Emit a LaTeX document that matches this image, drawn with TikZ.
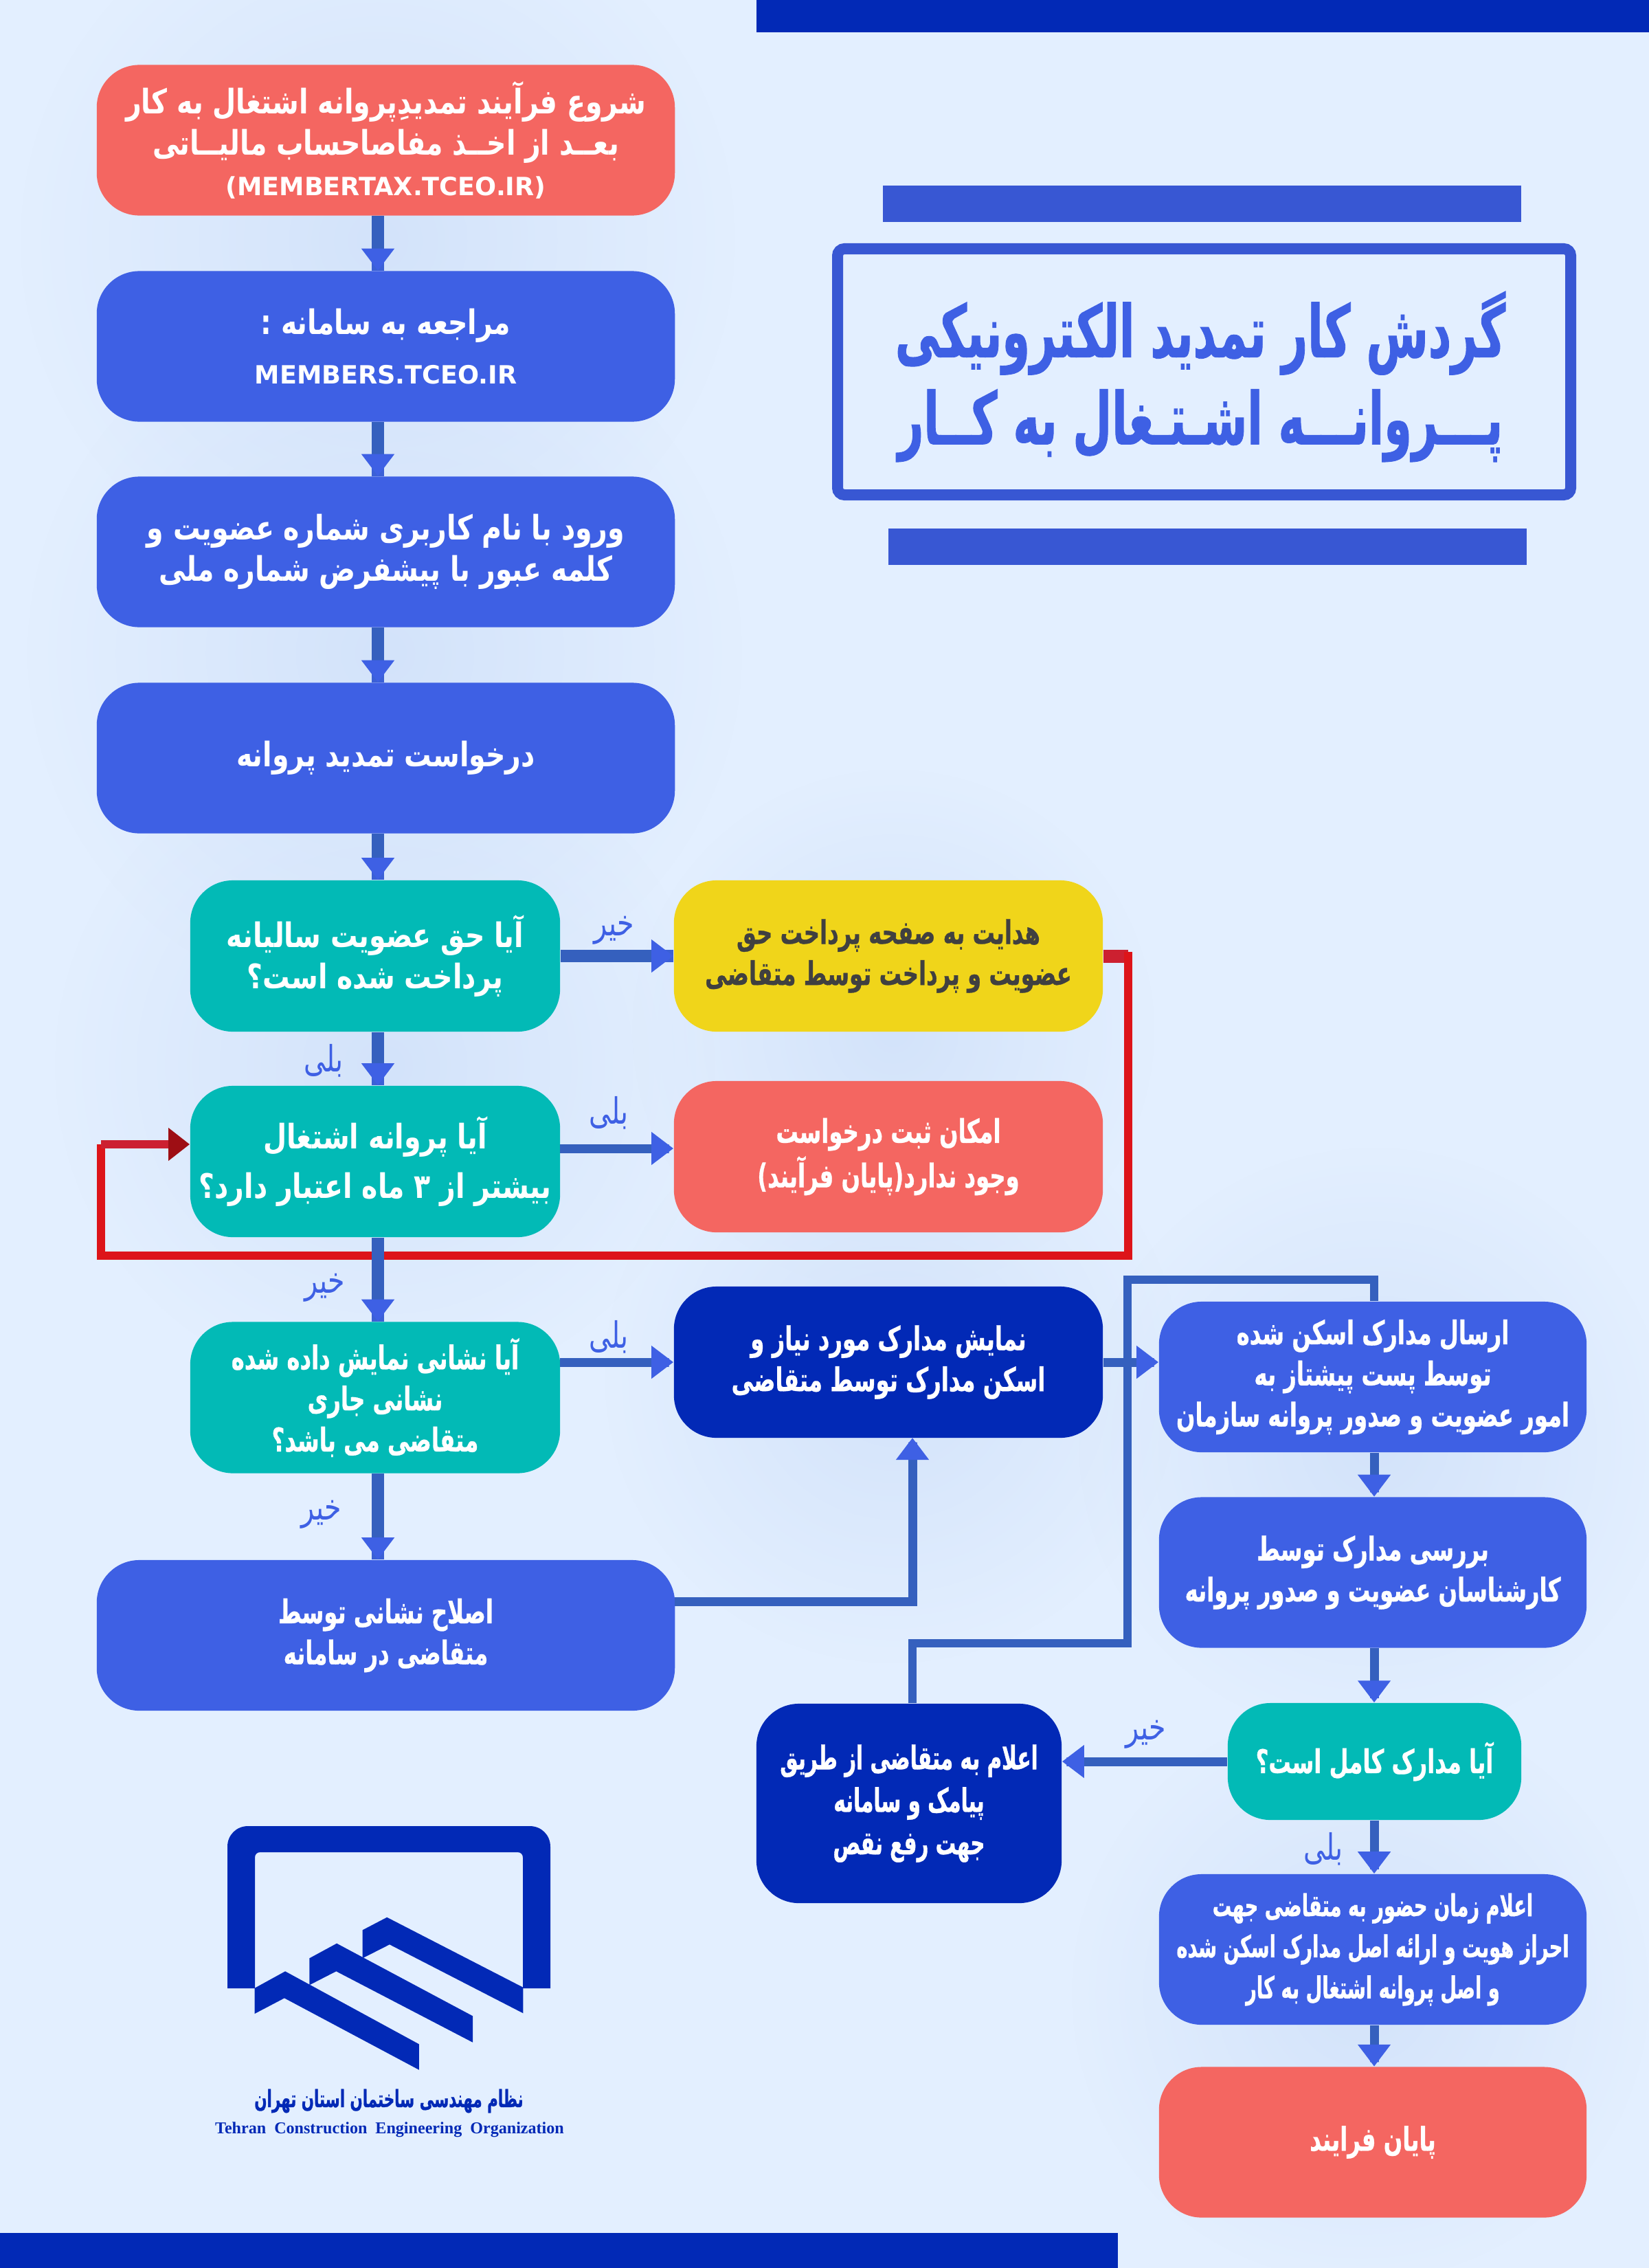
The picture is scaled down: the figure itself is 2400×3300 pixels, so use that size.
\documentclass[tikz,border=0pt]{standalone}
\usepackage{fontspec}
\usepackage{xcolor}
\usetikzlibrary{arrows.meta, calc, fadings}
\TeXXeTstate=1
\newfontfamily\fawide[Script=Arabic,FakeStretch=0.80]{DejaVu Sans}
\newfontfamily\fanarrow[Script=Arabic,FakeStretch=0.68,BoldFeatures={FakeBold=0.6}]{DejaVu Sans}
\newfontfamily\fatight[Script=Arabic,FakeStretch=0.62,BoldFeatures={FakeBold=0.8}]{DejaVu Sans}
\newfontfamily\falight[Script=Arabic,FakeStretch=0.75]{DejaVu Sans}
\newfontfamily\latfont{DejaVu Sans}
\newfontfamily\serfont{Liberation Serif}
\newcommand{\fa}[1]{\beginR #1\endR}
\newcommand{\lat}[1]{{\latfont\fontsize{10.4}{17}\selectfont #1}}

\definecolor{pagebg}{HTML}{E3EFFF}
\definecolor{blotch}{HTML}{D3E3FA}
\definecolor{coral}{HTML}{F46661}
\definecolor{royal}{HTML}{3E60E4}
\definecolor{tealbox}{HTML}{02BAB6}
\definecolor{sun}{HTML}{F0D51A}
\definecolor{navy}{HTML}{0229B6}
\definecolor{shaft}{HTML}{3560BE}
\definecolor{neck}{HTML}{3B60D6}
\definecolor{barblue}{HTML}{3857D3}
\definecolor{loopred}{HTML}{DD1419}
\definecolor{stubred}{HTML}{CC2030}
\definecolor{tipred}{HTML}{9E0E14}

\tikzfading[name=softspot, inner color=transparent!0, outer color=transparent!100]

\tikzset{
    flowbox/.style={rounded corners=0.62cm, inner sep=0pt, align=center, text=white,
        font=\fontsize{13.5}{17}\selectfont\fanarrow\bfseries},
    wide/.style={flowbox, minimum width=8.41cm, minimum height=2.19cm},
    widetext/.style={font=\fontsize{14}{17}\selectfont\fawide\bfseries},
    ask/.style={flowbox, fill=tealbox, minimum width=5.38cm, minimum height=2.2cm},
    mid/.style={flowbox, minimum width=6.24cm, minimum height=2.2cm},
    side/.style={flowbox, fill=royal, minimum width=6.22cm, minimum height=2.19cm},
    answer/.style={text=royal, inner sep=0pt, font=\fontsize{15}{17}\selectfont\falight},
    flow/.style={draw=shaft, line width=0.18cm,
        -{Rectangle[length=0.32cm,width=0pt 1,color=neck,sep=-0.32cm]Triangle[length=0.32cm,width=0.46cm,color=royal]}},
    thinflow/.style={flow, line width=0.13cm},
    plainflow/.style={draw=shaft, line width=0.125cm, line join=miter},
    bar/.style={fill=barblue},
}

\begin{document}
\begin{tikzpicture}[x=0.01cm, y=-0.01cm]
    % Page
    \fill[pagebg] (0,0) rectangle (2400,3300);
    \useasboundingbox (0,0) rectangle (2400,3300);
    \foreach \x/\y/\r in {550/350/520, 560/950/520, 560/1550/480, 1300/1500/380, 1300/2000/420, 2000/2100/430, 1980/2900/420} {
        \fill[blotch, path fading=softspot] (\x,\y) circle (\r);
    }
    \fill[navy] (1101,0) rectangle (2400,47);
    \fill[navy] (0,3249) rectangle (1627,3300);

    % Title
    \fill[bar] (1285,270) rectangle (2214,323);
    \fill[bar] (1293,769) rectangle (2222,822);
    \draw[barblue, line width=0.16cm, rounded corners=0.1cm] (1219,362) rectangle (2286,720);
    \node[text=royal, inner sep=0pt, align=center, font=\fontsize{30}{36}\selectfont\fatight\bfseries] (title) at (1747,548)
        {\fa{گردش کار تمدید الکترونیکی}\\\fa{پـــروانـــه اشـتـغال به کــار}};

    % Left column
    \node[wide, widetext, fill=coral] (start) at (561.5,204) {\fa{شروع فرآیند تمدیدِپروانه اشتغال به کار}\\\fa{بعــد از اخــذ مفاصاحساب مالیــاتی}\\\lat{(MEMBERTAX.TCEO.IR)}};
    \node[wide, widetext, fill=royal] (portal) at (561.5,504) {\fa{مراجعه به سامانه :}\\[0.13cm]\lat{MEMBERS.TCEO.IR}};
    \node[wide, widetext, fill=royal] (login) at (561.5,803) {\fa{ورود با نام کاربری شماره عضویت و}\\\fa{کلمه عبور با پیشفرض شماره ملی}};
    \node[wide, widetext, fill=royal] (request) at (561.5,1103) {\fa{درخواست تمدید پروانه}};
    \node[ask, widetext] (feepaid) at (546,1391) {\fa{آیا حق عضویت سالیانه}\\\fa{پرداخت شده است؟}};
    \node[ask, widetext] (valid) at (546,1690) {\fa{آیا پروانه اشتغال}\\[0.13cm]\fa{بیشتر از ۳ ماه اعتبار دارد؟}};
    \node[ask] (address) at (546,2033.5) {\fa{آیا نشانی نمایش داده شده}\\\fa{نشانی جاری}\\\fa{متقاضی می باشد؟}};
    \node[wide, fill=royal] (fixaddr) at (561.5,2379.5) {\fa{اصلاح نشانی توسط}\\\fa{متقاضی در سامانه}};

    % Middle column
    \node[mid, fill=sun, text=black!75] (payfee) at (1293,1391) {\fa{هدایت به صفحه پرداخت حق}\\\fa{عضویت و پرداخت توسط متقاضی}};
    \node[mid, fill=coral] (refuse) at (1293,1683) {\fa{امکان ثبت درخواست}\\[0.05cm]\fa{وجود ندارد(پایان فرآیند)}};
    \node[mid, fill=navy] (scan) at (1293,1982) {\fa{نمایش مدارک مورد نیاز و}\\\fa{اسکن مدارک توسط متقاضی}};
    \node[flowbox, fill=navy, minimum width=4.44cm, minimum height=2.9cm, font=\fontsize{13.5}{17.6}\selectfont\fatight\bfseries] (notify) at (1323,2624) {\fa{اعلام به متقاضی از طریق}\\\fa{پیامک و سامانه}\\\fa{جهت رفع نقص}};

    % Right column
    \node[side] (post) at (1998,2003.5) {\fa{ارسال مدارک اسکن شده}\\\fa{توسط پست پیشتاز به}\\\fa{امور عضویت و صدور پروانه سازمان}};
    \node[side] (review) at (1998,2288) {\fa{بررسی مدارک توسط}\\\fa{کارشناسان عضویت و صدور پروانه}};
    \node[flowbox, fill=tealbox, minimum width=4.27cm, minimum height=1.7cm] (complete) at (2000.5,2563) {\fa{آیا مدارک کامل است؟}};
    \node[side, font=\fontsize{12.5}{17}\selectfont\fatight\bfseries] (visit) at (1998,2836.5) {\fa{اعلام زمان حضور به متقاضی جهت}\\\fa{احراز هویت و ارائه اصل مدارک اسکن شده}\\\fa{و اصل پروانه اشتغال به کار}};
    \node[side, fill=coral] (finish) at (1998,3117) {\fa{پایان فرایند}};

    % Red loop
    \coordinate (loopa) at (1642,1385);
    \coordinate (loopb) at (1642,1827);
    \coordinate (loopc) at (147,1827);
    \coordinate (loopd) at (147,1665);
    \draw[stubred, line width=0.19cm] (payfee.east) -- (payfee.east -| loopa);
    \draw[loopred, line width=0.125cm] (loopa) -- (loopb) -- (loopc) -- (loopd);
    \draw[stubred, line width=0.125cm, -{Triangle[length=0.31cm,width=0.46cm,color=tipred]}] (loopd) -- (loopd -| valid.west);

    % Straight arrows
    \coordinate (leftx) at (550,0);
    \coordinate (rightx) at (2000,0);
    \foreach \a/\b in {start/portal, portal/login, login/request, request/feepaid, feepaid/valid, valid/address, address/fixaddr} {
        \draw[flow] (\a.south -| leftx) -- (\b.north -| leftx);
    }
    \foreach \a/\b in {post/review, review/complete, complete/visit, visit/finish} {
        \draw[thinflow] (\a.south -| rightx) -- (\b.north -| rightx);
    }
    \draw[flow] (feepaid.east) -- (payfee.west);

    % Side arrows
    \coordinate (validout) at (815,1671);
    \coordinate (addrout) at (815,1982);
    \coordinate (fixout) at (982,2330);
    \coordinate (scanin) at (1328,2092);
    \draw[thinflow] (validout) -- (validout -| refuse.west);
    \draw[thinflow] (addrout) -- (addrout -| scan.west);
    \draw[thinflow] (fixout) -| (scanin);
    \draw[thinflow] (complete.west) -- (complete.west -| notify.east);

    % Resubmission line
    \coordinate (backa) at (1328,2391);
    \coordinate (backb) at (1641,2391);
    \coordinate (backc) at (1641,1862);
    \coordinate (backd) at (2000,1862);
    \draw[plainflow] (notify.north -| backa) -- (backa) -- (backb) -- (backc) -- (backd) -- (post.north -| backd);
    \draw[thinflow] (scan.east) -- (scan.east -| post.west);

    % Answers
    \node[answer] (nofee) at (894,1354) {\fa{خیر}};
    \node[answer] (yesfee) at (471,1543) {\fa{بلی}};
    \node[answer] (yesvalid) at (886,1619) {\fa{بلی}};
    \node[answer] (novalid) at (473,1874) {\fa{خیر}};
    \node[answer] (yesaddr) at (886,1945) {\fa{بلی}};
    \node[answer] (noaddr) at (468,2204) {\fa{خیر}};
    \node[answer] (nocomp) at (1668,2524) {\fa{خیر}};
    \node[answer] (yescomp) at (1926,2690) {\fa{بلی}};

    % Logo
    \fill[navy] (331,2893) -- (331,2687) .. controls (331,2670) and (344,2657) .. (361,2657) -- (771,2657) .. controls (788,2657) and (801,2670) .. (801,2687) -- (801,2893) -- (761,2893) -- (761,2703) .. controls (761,2698) and (758,2695) .. (753,2695) -- (379,2695) .. controls (374,2695) and (371,2698) .. (371,2703) -- (371,2893) -- cycle;
    \fill[navy] (370.7,2892.7) -- (415.1,2868.3) -- (609.9,2974.3) -- (609.9,3011.7) -- (413.9,2907.3) -- (370.7,2930) -- cycle;
    \fill[navy] (450.3,2849.3) -- (490.1,2827.7) -- (688,2933.3) -- (688,2971.7) -- (489.3,2868.3) -- (450.3,2888.3) -- cycle;
    \fill[navy] (527.6,2808.3) -- (563.2,2789.7) -- (761.4,2891.7) -- (761.4,2929.3) -- (567,2829.3) -- (527.6,2849.3) -- cycle;
    \node[text=navy, inner sep=0pt, font=\fontsize{9.8}{11}\selectfont\fatight\bfseries] (logofa) at (566,3057) {\fa{نظام مهندسی ساختمان استان تهران}};
    \node[text=navy, inner sep=0pt, font=\fontsize{6.85}{9}\selectfont\serfont\bfseries] (logoen) at (567,3099) {Tehran\ \ Construction\ \ Engineering\ \ Organization};
\end{tikzpicture}
\end{document}
